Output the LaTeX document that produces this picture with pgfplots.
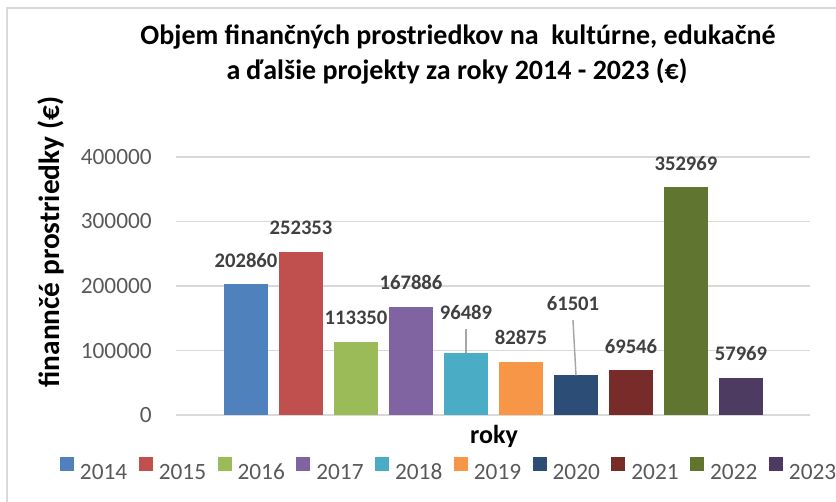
\documentclass[border=0pt]{standalone}
\usepackage{fontspec}
\setmainfont{Carlito}
\usepackage{pgfplots}
\pgfplotsset{compat=1.18}
\definecolor{c14}{HTML}{4F81BD}
\definecolor{c15}{HTML}{C0504D}
\definecolor{c16}{HTML}{9BBB59}
\definecolor{c17}{HTML}{8064A2}
\definecolor{c18}{HTML}{4BACC6}
\definecolor{c19}{HTML}{F79646}
\definecolor{c20}{HTML}{2C4D75}
\definecolor{c21}{HTML}{772C2A}
\definecolor{c22}{HTML}{5F7530}
\definecolor{c23}{HTML}{4D3B62}
\definecolor{gridc}{HTML}{D9D9D9}
\definecolor{tickc}{HTML}{595959}
\definecolor{labc}{HTML}{404040}
\definecolor{leadc}{HTML}{A6A6A6}
\begin{document}
\begin{tikzpicture}
\useasboundingbox (0pt,0pt) rectangle (627pt,-375.75pt);
\begin{scope}[x=0.75pt,y=-0.75pt]
\draw[gridc, line width=1.2pt] (7,8) rectangle (860,520);
\end{scope}
\begin{axis}[
  at={(132pt,-311.25pt)}, anchor=south west,
  scale only axis, width=475.5pt, height=193.5pt,
  xmin=-1.273, xmax=10.255, ymin=0, ymax=400000,
  ybar, bar width=33pt,
  every axis plot/.append style={bar shift=0pt, draw=none},
  clip=false,
  axis line style={draw=none},
  major tick length=0pt,
  xtick=\empty,
  scaled y ticks=false,
  ytick={0,100000,200000,300000,400000},
  yticklabels={0,100000,200000,300000,400000},
  yticklabel style={font=\fontsize{17.5}{21}\selectfont, text=tickc, inner sep=0pt, anchor=east, xshift=-18pt},
  ymajorgrids, grid style={gridc, line width=0.9pt},
  point meta=explicit symbolic,
  nodes near coords,
  every node near coord/.append style={anchor=center, yshift=18pt, font=\fontsize{15.5}{18}\selectfont\bfseries, text=labc},
  legend columns=10,
  legend image code/.code={\fill[#1] (0pt,0.75pt) rectangle (10.5pt,11.25pt);},
  legend style={at={(-0.18297,-0.20736)}, anchor=west, draw=none, fill=none, inner sep=0pt, outer sep=0pt,
    font=\fontsize{17.5}{21}\selectfont, text=tickc, nodes={inner sep=0pt, text depth=0pt},
    /tikz/every odd column/.append style={column sep=4.5pt},
    /tikz/every even column/.append style={column sep=8.6pt}},
  legend cell align=left,
]
\addplot[fill=c14] coordinates {(0,202860) [202860]}; \addlegendentry{2014}
\addplot[fill=c15] coordinates {(1,252353) [252353]}; \addlegendentry{2015}
\addplot[fill=c16] coordinates {(2,113350) [113350]}; \addlegendentry{2016}
\addplot[fill=c17] coordinates {(3,167886) [167886]}; \addlegendentry{2017}
\addplot[fill=c18, every node near coord/.append style={yshift=12pt}] coordinates {(4,96489) [96489]}; \addlegendentry{2018}
\addplot[fill=c19] coordinates {(5,82875) [82875]}; \addlegendentry{2019}
\addplot[fill=c20, every node near coord/.append style={yshift=36pt, xshift=-2.25pt}] coordinates {(6,61501) [61501]}; \addlegendentry{2020}
\addplot[fill=c21] coordinates {(7,69546) [69546]}; \addlegendentry{2021}
\addplot[fill=c22] coordinates {(8,352969) [352969]}; \addlegendentry{2022}
\addplot[fill=c23] coordinates {(9,57969) [57969]}; \addlegendentry{2023}
\draw[leadc, line width=1.1pt] (axis cs:4,133333) -- (axis cs:4,96489);
\draw[leadc, line width=1.1pt] (axis cs:5.945,147287) -- (axis cs:6,61501);
\end{axis}
\begin{scope}[x=0.75pt,y=-0.75pt]
\node[anchor=base, font=\fontsize{21}{25}\selectfont\bfseries] at (458,44) {Objem finančných prostriedkov na\ \ kultúrne, edukačné};
\node[anchor=base, font=\fontsize{21}{25}\selectfont\bfseries] at (457,79) {a ďalšie projekty za roky 2014 - 2023 (€)};
\node[anchor=base, font=\fontsize{19.5}{23}\selectfont\bfseries] at (494,443) {roky};
\node[rotate=90, anchor=base, font=\fontsize{22}{26}\selectfont\bfseries] at (60,242) {finannčé prostriedky (€)};
\end{scope}
\end{tikzpicture}
\end{document}
